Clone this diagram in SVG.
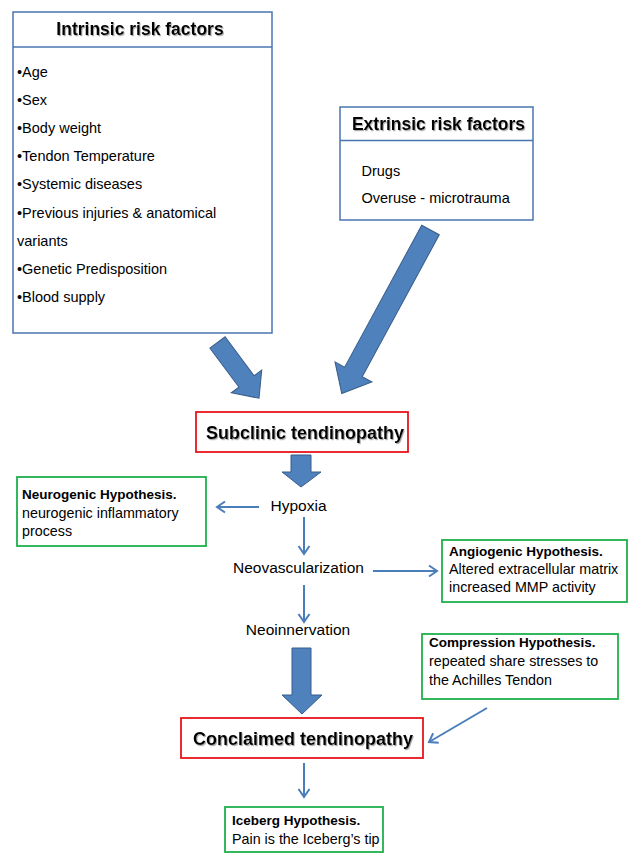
<svg xmlns="http://www.w3.org/2000/svg" width="629" height="854" viewBox="0 0 629 854">
<style>
  text { font-family: "Liberation Sans", Arial, sans-serif; fill: #000; }
  .title { font-weight: bold; font-size: 17.5px; text-anchor: middle; filter: url(#sh); }
  .big { font-weight: bold; font-size: 18px; text-anchor: middle; filter: url(#sh); }
  .item { font-size: 14.5px; }
  .step { font-size: 15.5px; text-anchor: middle; }
  .hb { font-weight: bold; font-size: 13.5px; }
  .ht { font-size: 14.3px; }
  .bluebox { fill: #fff; stroke: #4a76b0; stroke-width: 1.5; }
  .redbox { fill: #fff; stroke: #e8141c; stroke-width: 1.8; }
  .greenbox { fill: #fff; stroke: #1fb04c; stroke-width: 1.8; }
  .thin { stroke: #4a7ebb; stroke-width: 2; fill: none; marker-end: url(#ah); }
  .fat { fill: #4f81bd; stroke: #385d8a; stroke-width: 1; }
</style>
<defs>
  <filter id="sh" x="-5%" y="-20%" width="110%" height="150%">
    <feDropShadow dx="1" dy="1.2" stdDeviation="0.6" flood-color="#777" flood-opacity="0.6"/>
  </filter>
  <marker id="ah" viewBox="-10 -7 12 14" refX="0" refY="0" markerWidth="12" markerHeight="14" markerUnits="userSpaceOnUse" orient="auto">
    <path d="M-8,-5.5 L0,0 L-8,5.5" fill="none" stroke="#4a7ebb" stroke-width="2"/>
  </marker>
</defs>
<rect width="629" height="854" fill="#fff"/>

<g id="intrinsic">
  <rect class="bluebox" x="13" y="12" width="259" height="321"/>
  <line x1="13" y1="47" x2="272" y2="47" stroke="#4a76b0" stroke-width="1.5"/>
  <text class="title" x="140" y="35">Intrinsic risk factors</text>
  <text class="item" x="17" y="76.5">•Age</text>
  <text class="item" x="17" y="104.7">•Sex</text>
  <text class="item" x="17" y="132.9">•Body weight</text>
  <text class="item" x="17" y="161.1">•Tendon Temperature</text>
  <text class="item" x="17" y="189.3">•Systemic diseases</text>
  <text class="item" x="17" y="217.5">•Previous injuries &amp; anatomical</text>
  <text class="item" x="17" y="245.7">variants</text>
  <text class="item" x="17" y="273.9">•Genetic Predisposition</text>
  <text class="item" x="17" y="302.1">•Blood supply</text>
</g>

<g id="extrinsic">
  <rect class="bluebox" x="340" y="107" width="193" height="113"/>
  <line x1="340" y1="140.5" x2="533" y2="140.5" stroke="#4a76b0" stroke-width="1.5"/>
  <text class="title" x="438.5" y="130">Extrinsic risk factors</text>
  <text class="item" x="361.5" y="175.5">Drugs</text>
  <text class="item" x="361.5" y="203">Overuse - microtrauma</text>
</g>

<g id="subclinic">
  <rect class="redbox" x="196" y="412" width="212" height="40"/>
  <text class="big" x="305" y="439">Subclinic tendinopathy</text>
</g>

<g id="hypoxia">
  <text class="step" x="298.5" y="511">Hypoxia</text>
</g>

<g id="neovascularization">
  <text class="step" x="298.5" y="573">Neovascularization</text>
</g>

<g id="neoinnervation">
  <text class="step" x="298" y="635">Neoinnervation</text>
</g>

<g id="neurogenic">
  <rect class="greenbox" x="17" y="477" width="189" height="69"/>
  <text class="hb" x="22" y="499">Neurogenic Hypothesis.</text>
  <text class="ht" x="22" y="517.5">neurogenic inflammatory</text>
  <text class="ht" x="22" y="536">process</text>
</g>

<g id="angiogenic">
  <rect class="greenbox" x="442" y="540" width="185" height="62"/>
  <text class="hb" x="449" y="556">Angiogenic Hypothesis.</text>
  <text class="ht" x="449" y="574">Altered extracellular matrix</text>
  <text class="ht" x="449" y="592">increased MMP activity</text>
</g>

<g id="compression">
  <rect class="greenbox" x="422" y="634" width="196" height="65"/>
  <text class="hb" x="429" y="647">Compression Hypothesis.</text>
  <text class="ht" x="429" y="666">repeated share stresses to</text>
  <text class="ht" x="429" y="684.5">the Achilles Tendon</text>
</g>

<g id="conclaimed">
  <rect class="redbox" x="181" y="718" width="242" height="40"/>
  <text class="big" x="303" y="745">Conclaimed tendinopathy</text>
</g>

<g id="iceberg">
  <rect class="greenbox" x="225" y="807" width="158" height="45"/>
  <text class="hb" x="232" y="825">Iceberg Hypothesis.</text>
  <text class="ht" x="232" y="844">Pain is the Iceberg’s tip</text>
</g>

<g id="connectors">
  <polygon class="fat" transform="translate(217.5,342.5) rotate(53.3)" points="0,-9.5 48.5,-9.5 48.5,-19 69.5,0 48.5,19 48.5,9.5 0,9.5"/>
  <polygon class="fat" transform="translate(430.5,230) rotate(118.5)" points="0,-10 161.5,-10 161.5,-21 186,0 161.5,21 161.5,10 0,10"/>
  <polygon class="fat" points="291,455 311,455 311,472 321,472 301,487 282,472 291,472"/>
  <polygon class="fat" points="292,648 311,648 311,695 322,695 302,714 282,695 292,695"/>
  <line class="thin" x1="259" y1="507" x2="217" y2="507"/>
  <line class="thin" x1="304" y1="517" x2="304" y2="554"/>
  <line class="thin" x1="373" y1="571" x2="437" y2="571"/>
  <line class="thin" x1="304" y1="585" x2="304" y2="622"/>
  <line class="thin" x1="487" y1="708" x2="429" y2="742"/>
  <line class="thin" x1="304" y1="763" x2="304" y2="797"/>
</g>
</svg>
